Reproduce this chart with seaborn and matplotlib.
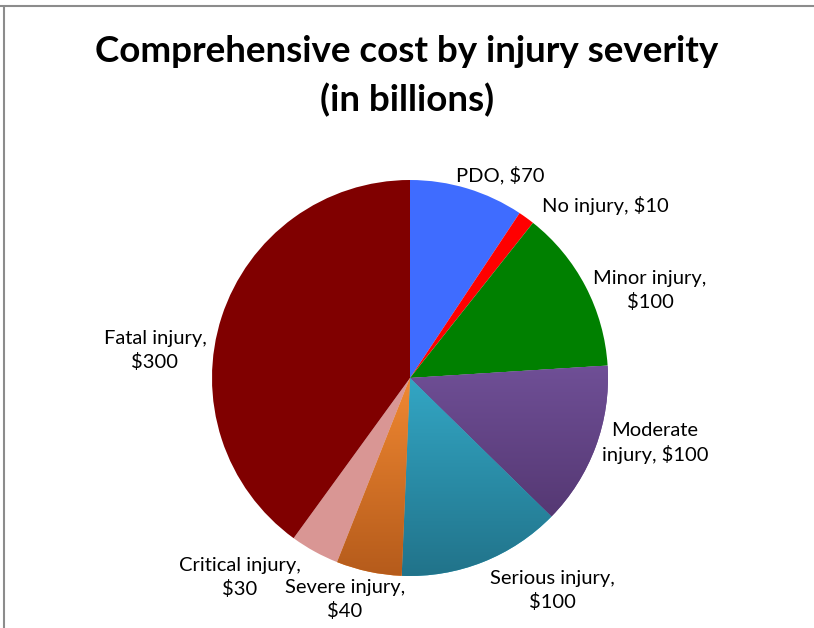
import numpy as np
import matplotlib
matplotlib.use("Agg")
import matplotlib.pyplot as plt
from matplotlib.colors import LinearSegmentedColormap
from matplotlib.lines import Line2D
import seaborn as sns

categories = ["PDO", "No injury", "Minor injury", "Moderate injury", "Serious injury",
              "Severe injury", "Critical injury", "Fatal injury"]
values = [70, 10, 100, 100, 100, 40, 30, 300]

# label wrapping and styling (not data)
wrap = ["none", "none", "comma", "word", "comma", "comma", "comma", "comma"]
colors_top = ["#3F6CFF", "#FF0000", "#008000", "#6F4F96", "#33A6C4", "#F08832", "#D99694", "#800000"]
colors_bot = ["#3F6CFF", "#FF0000", "#008000", "#553873", "#21738A", "#B55B1B", "#D99694", "#800000"]
label_xy = [(0.455, 1.025), (0.985, 0.869), (1.212, 0.444), (1.237, -0.328),
            (0.717, -1.071), (-0.328, -1.121), (-0.859, -1.010), (-1.288, 0.141)]


def make_label(cat, val, mode):
    if mode == "comma":
        return f"{cat},\n${val}"
    if mode == "word":
        first, rest = cat.split(" ", 1)
        return f"{first}\n{rest}, ${val}"
    return f"{cat}, ${val}"


sns.set_style("white")
plt.rcParams["font.family"] = ["Lato", "DejaVu Sans"]

W, H = 814, 628
fig = plt.figure(figsize=(W / 100, H / 100), dpi=100)
ax = fig.add_axes([0, 0, 1, 1])

cx, cy, R = 410, 378, 198
wedges, _ = ax.pie(values, colors=colors_top, startangle=90, counterclock=False,
                   wedgeprops=dict(linewidth=0))

for w, ct, cb in zip(wedges, colors_top, colors_bot):
    if ct != cb:
        ext = w.get_path().get_extents()
        cmap = LinearSegmentedColormap.from_list("g", [cb, ct])
        grad = np.linspace(0, 1, 256).reshape(-1, 1)
        im = ax.imshow(grad, cmap=cmap, origin="lower", aspect="auto",
                       extent=(ext.x0, ext.x1, ext.y0, ext.y1), zorder=w.get_zorder() + 0.1)
        im.set_clip_path(w)

for cat, val, mode, (x, y) in zip(categories, values, wrap, label_xy):
    ax.text(x, y, make_label(cat, val, mode), ha="center", va="center", fontsize=14.5,
            color="black", linespacing=1.4)

ax.set_xlim(-cx / R, (W - cx) / R)
ax.set_ylim(-(H - cy) / R, cy / R)
ax.set_aspect("auto")
ax.axis("off")

fig.text(0.5, 1 - 52 / H, "Comprehensive cost by injury severity", ha="center", va="center",
         fontsize=26.5, fontweight="bold", color="black")
fig.text(0.5, 1 - 100 / H, "(in billions)", ha="center", va="center",
         fontsize=26.5, fontweight="bold", color="black")

fig.add_artist(Line2D([0, 1], [1 - 5.5 / H, 1 - 5.5 / H], transform=fig.transFigure,
                      color="#8C8C8C", linewidth=1.5, solid_capstyle="butt"))
fig.add_artist(Line2D([3.5 / W, 3.5 / W], [0, 1 - 5.5 / H], transform=fig.transFigure,
                      color="#8C8C8C", linewidth=1.5, solid_capstyle="butt"))

fig.savefig("out.png", dpi=100, facecolor="white")
